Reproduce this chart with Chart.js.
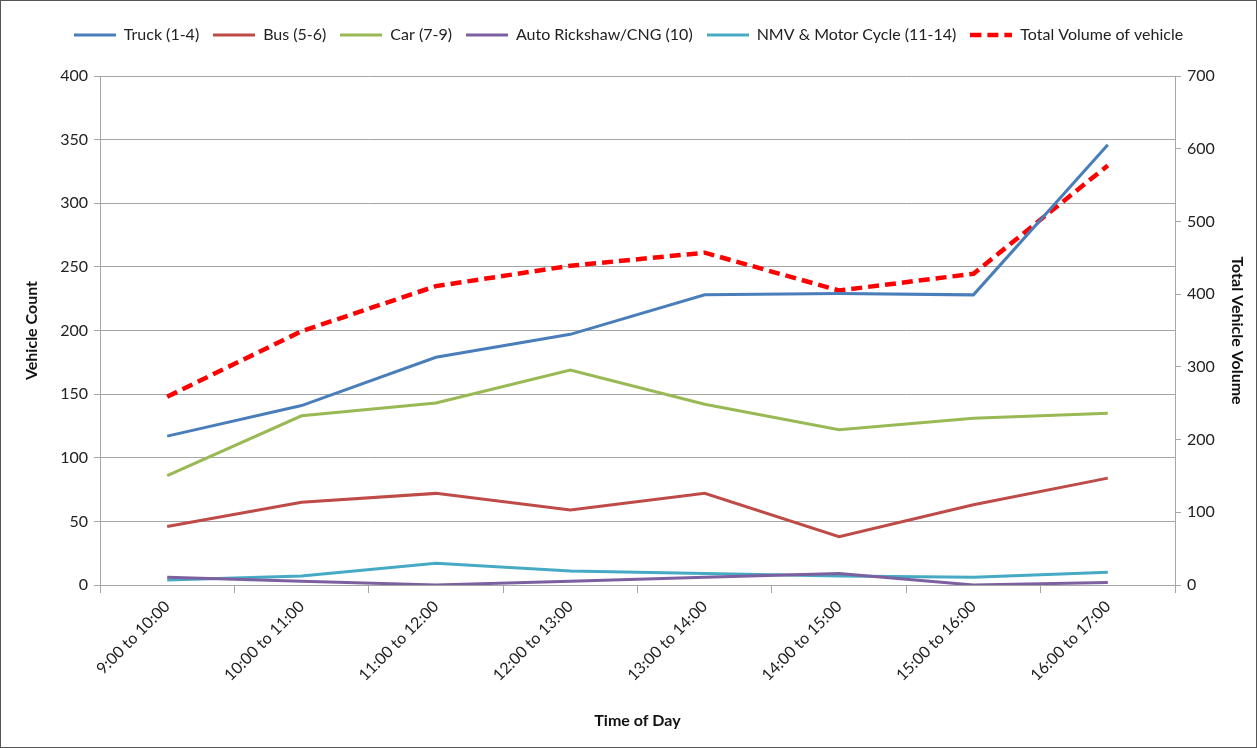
<!DOCTYPE html>
<html>
<head>
<meta charset="utf-8">
<script src="https://cdn.jsdelivr.net/npm/chart.js@4.4.1/dist/chart.umd.min.js"></script>
<style>
  html, body { margin: 0; padding: 0; background: #fff; }
  #wrap { width: 1257px; height: 748px; position: relative; }
</style>
</head>
<body>
<div id="wrap"><canvas id="c" width="1257" height="748"></canvas></div>
<script>
const timeSlots = ['9:00 to 10:00', '10:00 to 11:00', '11:00 to 12:00', '12:00 to 13:00',
                   '13:00 to 14:00', '14:00 to 15:00', '15:00 to 16:00', '16:00 to 17:00'];
const truck = [117, 141, 179, 197, 228, 229, 228, 346];
const bus = [46, 65, 72, 59, 72, 38, 63, 84];
const car = [86, 133, 143, 169, 142, 122, 131, 135];
const autoRickshaw = [6, 3, 0, 3, 6, 9, 0, 2];
const nmvMotorCycle = [4, 7, 17, 11, 9, 7, 6, 10];
const totalVolume = [259, 349, 411, 439, 457, 405, 428, 577];

const FONT = "Lato, 'Open Sans', sans-serif";
const GRID = '#a6a6a6';
const SWATCH_W = 42;

// frame around the whole figure
const framePlugin = {
  id: 'frame',
  afterDraw(chart) {
    const ctx = chart.ctx;
    ctx.save();
    ctx.strokeStyle = '#555';
    ctx.lineWidth = 1;
    ctx.strokeRect(0.5, 0.5, chart.width - 1, chart.height - 1);
    ctx.restore();
  }
};

// small line sample for the legend, honouring the dataset's dash pattern
function swatch(color, width, dash) {
  const cv = document.createElement('canvas');
  cv.width = SWATCH_W;
  cv.height = 8;
  const g = cv.getContext('2d');
  g.strokeStyle = color;
  g.lineWidth = width;
  g.setLineDash(dash || []);
  g.beginPath();
  g.moveTo(0, 4);
  g.lineTo(SWATCH_W, 4);
  g.stroke();
  return cv;
}

function line(label, data, color, axis, extra) {
  return Object.assign({
    label, data, yAxisID: axis,
    borderColor: color, backgroundColor: color,
    borderWidth: 3, pointRadius: 0, pointHoverRadius: 0,
    tension: 0, fill: false
  }, extra || {});
}

new Chart(document.getElementById('c'), {
  type: 'line',
  data: {
    labels: timeSlots,
    datasets: [
      line('Truck (1-4)', truck, '#4A7EBB', 'y'),
      line('Bus (5-6)', bus, '#BE4B48', 'y'),
      line('Car (7-9)', car, '#98B954', 'y'),
      line('Auto Rickshaw/CNG (10)', autoRickshaw, '#7D60A0', 'y'),
      line('NMV & Motor Cycle (11-14)', nmvMotorCycle, '#46AAC5', 'y'),
      line('Total Volume of vehicle', totalVolume, '#FF0000', 'y1', { borderWidth: 4.5, borderDash: [11, 6] })
    ]
  },
  options: {
    responsive: false,
    animation: false,
    layout: { padding: { left: 0, right: 0, top: 13, bottom: 0 } },
    plugins: {
      tooltip: { enabled: false },
      legend: {
        position: 'top',
        weight: 3000,
        labels: {
          usePointStyle: true,
          pointStyleWidth: SWATCH_W,
          color: '#222',
          font: { family: FONT, size: 16 },
          padding: 14,
          generateLabels(chart) {
            return chart.data.datasets.map((ds, i) => ({
              text: ds.label,
              datasetIndex: i,
              fillStyle: ds.borderColor,
              strokeStyle: ds.borderColor,
              lineWidth: 0,
              hidden: !chart.isDatasetVisible(i),
              fontColor: '#222',
              pointStyle: swatch(ds.borderColor, ds.borderWidth, ds.borderDash)
            }));
          }
        }
      },
      // blank spacer between the legend and the plot area
      subtitle: {
        display: true,
        text: ' ',
        font: { size: 10 },
        padding: { top: 0, bottom: 11 }
      }
    },
    scales: {
      x: {
        offset: true,
        grid: { offset: true, drawOnChartArea: false, drawTicks: true, tickLength: 8, color: GRID },
        border: { color: GRID },
        ticks: { color: '#222', font: { family: FONT, size: 16 }, minRotation: 45, maxRotation: 45, padding: 4 },
        title: { display: true, text: 'Time of Day', color: '#111', font: { family: FONT, size: 16, weight: 'bold' }, padding: { top: 4, bottom: 18 } },
        afterFit(s) { s.height = 163; }
      },
      y: {
        position: 'left',
        min: 0, max: 400,
        ticks: { stepSize: 50, color: '#222', font: { family: FONT, size: 16 }, padding: 6 },
        grid: { color: GRID, drawTicks: true, tickLength: 6 },
        border: { color: GRID },
        title: { display: true, text: 'Vehicle Count', color: '#111', font: { family: FONT, size: 16, weight: 'bold' }, padding: { top: 22, bottom: 0 } },
        afterFit(s) { s.width = 100; }
      },
      y1: {
        position: 'right',
        min: 0, max: 700,
        ticks: { stepSize: 100, color: '#222', font: { family: FONT, size: 16 }, padding: 6 },
        grid: { drawOnChartArea: false, drawTicks: true, tickLength: 6, color: GRID },
        border: { color: GRID },
        title: { display: true, text: 'Total Vehicle Volume', color: '#111', font: { family: FONT, size: 16, weight: 'bold' }, padding: { top: 10, bottom: 0 } },
        afterFit(s) { s.width = 82; }
      }
    }
  },
  plugins: [framePlugin]
});
</script>
</body>
</html>
